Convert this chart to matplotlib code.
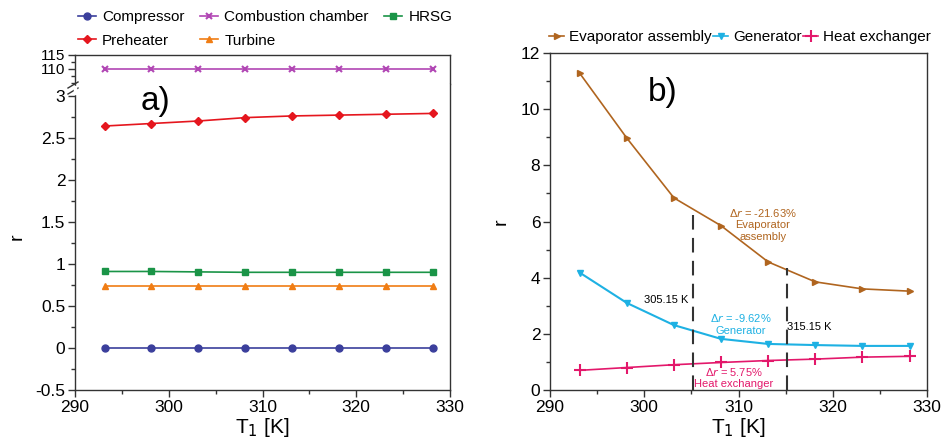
import matplotlib
matplotlib.use("Agg")
import matplotlib.pyplot as plt
from matplotlib.lines import Line2D
from matplotlib.ticker import MultipleLocator

plt.rcParams['font.family'] = ['Liberation Sans', 'DejaVu Sans']

T = [293.15, 298.15, 303.15, 308.15, 313.15, 318.15, 323.15, 328.15]

compressor = [0.0, 0.0, 0.0, 0.0, 0.0, 0.0, 0.0, 0.0]
combustion = [110.0, 110.0, 110.0, 110.0, 110.0, 110.0, 110.0, 110.0]
hrsg = [0.91, 0.91, 0.905, 0.90, 0.90, 0.90, 0.90, 0.90]
preheater = [2.64, 2.67, 2.70, 2.74, 2.76, 2.77, 2.78, 2.79]
turbine = [0.74, 0.74, 0.74, 0.74, 0.74, 0.74, 0.74, 0.74]

evaporator = [11.28, 8.97, 6.84, 5.85, 4.56, 3.85, 3.60, 3.52]
generator = [4.18, 3.10, 2.31, 1.82, 1.64, 1.60, 1.57, 1.57]
heat_exchanger = [0.70, 0.80, 0.90, 0.98, 1.05, 1.10, 1.17, 1.20]

vlines_T = [305.15, 315.15]
vlines_top = [6.4, 4.35]

c_comp = '#3b3f9c'
c_comb = '#b146b4'
c_hrsg = '#1a9447'
c_pre = '#e5161e'
c_tur = '#f07d14'
c_eva = '#b0651f'
c_gen = '#1eb1e3'
c_hx = '#e3186b'

W, H = 941, 444
fig = plt.figure(figsize=(W / 100, H / 100), dpi=100)

def fx(p):
    return p / W

def fy(p):
    return 1 - p / H

lx0, lx1 = 75, 450
ytop, ysplit, ybot = 55, 84, 390
ax_up = fig.add_axes([fx(lx0), fy(ysplit), fx(lx1 - lx0), fy(ytop) - fy(ysplit)])
ax_lo = fig.add_axes([fx(lx0), fy(ybot), fx(lx1 - lx0), fy(ysplit) - fy(ybot)])

rx0, rx1 = 550, 927
ax_r = fig.add_axes([fx(rx0), fy(390), fx(rx1 - rx0), fy(53) - fy(390)])

tick_fs = 12.5
for ax in (ax_up, ax_lo, ax_r):
    ax.set_xlim(290, 330)
    ax.tick_params(axis='both', which='both', direction='out', top=False, right=False,
                   labelsize=tick_fs, width=1.0, color='#333333', pad=2)
    ax.tick_params(which='major', length=5)
    ax.tick_params(which='minor', length=3)
    for s in ax.spines.values():
        s.set_linewidth(1.0)
        s.set_color('#333333')

lw = 1.2
ms = 5
ax_up.plot(T, combustion, color=c_comb, marker='x', lw=lw, ms=ms, mew=1.5)
ax_up.set_ylim(104.64, 115)
ax_up.yaxis.set_minor_locator(MultipleLocator(2.5))
ax_up.set_yticks([110, 115])
ax_up.tick_params(axis='y', labelsize=11)
ax_up.spines['bottom'].set_visible(False)
ax_up.tick_params(axis='x', which='both', bottom=False, labelbottom=False)

ax_lo.plot(T, compressor, color=c_comp, marker='o', lw=lw, ms=ms)
ax_lo.plot(T, preheater, color=c_pre, marker='D', lw=lw, ms=ms - 0.5)
ax_lo.plot(T, hrsg, color=c_hrsg, marker='s', lw=lw, ms=ms)
ax_lo.plot(T, turbine, color=c_tur, marker='^', lw=lw, ms=ms)
ax_lo.set_ylim(-0.5, 3.14)
ax_lo.set_yticks([-0.5, 0, 0.5, 1, 1.5, 2, 2.5, 3])
ax_lo.set_yticklabels(['-0.5', '0', '0.5', '1', '1.5', '2', '2.5', '3'])
ax_lo.yaxis.set_minor_locator(MultipleLocator(0.25))
ax_lo.spines['top'].set_visible(False)
ax_lo.set_xticks([290, 300, 310, 320, 330])
ax_lo.xaxis.set_minor_locator(MultipleLocator(5))
ax_lo.set_xlabel('T$_1$ [K]', fontsize=15, labelpad=1)
ax_lo.set_ylabel('r', fontsize=14, labelpad=7)
ax_lo.text(298.6, 2.93, 'a)', fontsize=24, ha='center', va='center')

# break marks on the left spine
for dy in (-3, 3):
    yb = ysplit + dy + 4
    fig.add_artist(Line2D([fx(lx0 - 7), fx(lx0 + 3)], [fy(yb + 3), fy(yb - 3)],
                          color='#333333', lw=1.0))
fig.add_artist(Line2D([fx(lx0), fx(lx0)], [fy(ysplit + 3), fy(ysplit + 9)],
                      color='white', lw=2.5))

# left legend
handles = [
    Line2D([], [], color=c_comp, marker='o', lw=lw, ms=ms),
    Line2D([], [], color=c_pre, marker='D', lw=lw, ms=ms - 0.5),
    Line2D([], [], color=c_comb, marker='x', lw=lw, ms=ms, mew=1.5),
    Line2D([], [], color=c_tur, marker='^', lw=lw, ms=ms),
    Line2D([], [], color=c_hrsg, marker='s', lw=lw, ms=ms),
]
labels = ['Compressor', 'Preheater', 'Combustion chamber', 'Turbine', 'HRSG']
fig.legend(handles, labels, ncol=3, loc='center', bbox_to_anchor=(fx(265), fy(29)),
           frameon=False, fontsize=11, handlelength=1.2, handletextpad=0.4,
           columnspacing=1.0, labelspacing=0.6, borderpad=0)

# right panel
ax_r.plot(T, evaporator, color=c_eva, marker='>', lw=lw, ms=ms)
ax_r.plot(T, generator, color=c_gen, marker='v', lw=lw + 0.3, ms=ms)
ax_r.plot(T, heat_exchanger, color=c_hx, marker='+', lw=lw, ms=ms + 3, mew=1.5)
ax_r.set_ylim(0, 12)
ax_r.set_yticks([0, 2, 4, 6, 8, 10, 12])
ax_r.yaxis.set_minor_locator(MultipleLocator(1))
ax_r.set_xticks([290, 300, 310, 320, 330])
ax_r.xaxis.set_minor_locator(MultipleLocator(5))
ax_r.set_xlabel('T$_1$ [K]', fontsize=15, labelpad=1)
ax_r.set_ylabel('r', fontsize=14, labelpad=8)
ax_r.text(302.0, 10.6, 'b)', fontsize=24, ha='center', va='center')

for xv, top in zip(vlines_T, vlines_top):
    ax_r.plot([xv, xv], [0, top], color='#333333', lw=1.5, ls=(0, (7, 4)))

afs = 8
ax_r.text(312.6, 5.9, '\u0394$r$ = -21.63%\nEvaporator\nassembly', color=c_eva,
          fontsize=afs, ha='center', va='center', linespacing=1.15)
ax_r.text(304.7, 3.2, '305.15 K', color='black', fontsize=afs, ha='right', va='center')
ax_r.text(310.2, 2.35, '\u0394$r$ = -9.62%\nGenerator', color=c_gen,
          fontsize=afs, ha='center', va='center', linespacing=1.15)
ax_r.text(315.1, 2.24, '315.15 K', color='black', fontsize=afs, ha='left', va='center')
ax_r.text(309.5, 0.45, '\u0394$r$ = 5.75%\nHeat exchanger', color=c_hx,
          fontsize=afs, ha='center', va='center', linespacing=1.15)

handles_r = [
    Line2D([], [], color=c_eva, marker='>', lw=lw, ms=ms),
    Line2D([], [], color=c_gen, marker='v', lw=lw, ms=ms),
    Line2D([], [], color=c_hx, marker='+', lw=lw, ms=ms + 3, mew=1.5),
]
fig.legend(handles_r, ['Evaporator assembly', 'Generator', 'Heat exchanger'], ncol=3,
           loc='center', bbox_to_anchor=(fx(740), fy(37)), frameon=False, fontsize=11,
           handlelength=1.0, handletextpad=0.3, columnspacing=0.1, borderpad=0)

fig.savefig('out.png', dpi=100)
